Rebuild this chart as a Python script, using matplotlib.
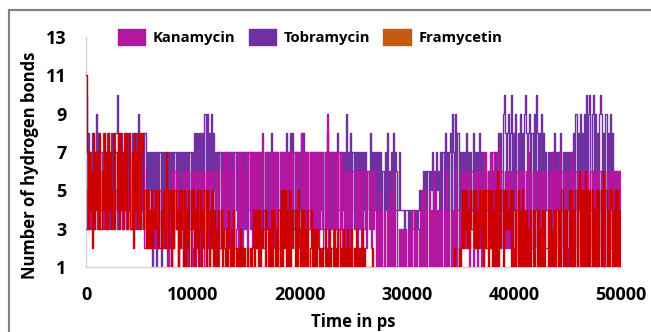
import numpy as np
import matplotlib.pyplot as plt
from matplotlib.patches import Patch
from matplotlib.lines import Line2D

# ---------------------------------------------------------------------------
# Data: number of H-bonds, one char per 100 ps sample
# (hex digits, a = 10, b = 11), one group per 1000 ps
# ---------------------------------------------------------------------------
kanamycin_str = (
    "3546354635 4536453645 5364536453 3645364536 4536453645 "
    "6354625252 2525242525 5242525152 1626361526 6162616361 "
    "2616261626 6162616261 3626172637 7263726372 3727372637 "
    "7273727372 3727382737 7273727372 2737273727 7273727372 "
    "3827372737 7273737273 3727392737 7273727372 3626362636 "
    "6362636263 3626362636 4141514141 1415141614 4131313131 "
    "1313141313 3141515141 5141615141 4141416141 1414161414 "
    "2626262616 6162616261 2727262727 7262727262 2626262616 "
    "6162616261 2627262626 6262616262 2616271626 6272616262 "
    "1627262616 6262616262 2616262616 6262616262 2616262626"
)
tobramycin_str = (
    "a384738374 9384738473 847384738a 3848374838 4738483849 "
    "3848384737 5717371737 1737571737 5737573747 3747374737 "
    "5848584858 4959485948 5747576747 3747374737 4737473747 "
    "3747374737 4737473747 3748374737 4737473847 3848374737 "
    "4838473747 3747374737 4737483747 3747384737 4739473847 "
    "3747374737 4746484747 4747474647 4846474847 6474444344 "
    "4343434343 4545465646 5657465756 4747484747 8497494847 "
    "4747484747 4847474847 4646464646 4747484849 a848948a48 "
    "4948494849 a848948494 a848494847 4747474847 4748474747 "
    "4747484948 4948494a49 a49a494849 a948494849 4846464646"
)
framycetin_str = (
    "b737462837 4738364837 3847358374 8384738483 4837284738 "
    "8378352524 2524353252 4253275245 1525341525 3151425153 "
    "5142513514 2515314251 4131424132 1314213141 2121312121 "
    "1212124142 4141324143 1314143131 4151525141 5142414153 "
    "1414131412 4131313212 1213121312 2131213121 3121312131 "
    "2131212131 2101010200 0000100000 0000000000 0000000000 "
    "0000000000 0000000000 0000000000 0000000000 0010201021 "
    "2525352425 3525242532 5152515251 4151615251 5353435152 "
    "1415141514 1413141414 4141314141 1414131414 4141514141 "
    "1515141515 6151516151 5151415151 1516151415 5141515141"
)

kanamycin = [int(c, 16) for c in kanamycin_str.replace(" ", "")]
tobramycin = [int(c, 16) for c in tobramycin_str.replace(" ", "")]
framycetin = [int(c, 16) for c in framycetin_str.replace(" ", "")]

labels = ["Kanamycin", "Tobramycin", "Framycetin"]
line_colors = ["#B3169F", "#7030A0", "#CC0000"]
legend_colors = ["#B3169F", "#7030A0", "#C55A11"]

x_ticks = [0, 10000, 20000, 30000, 40000, 50000]
y_ticks = [1, 3, 5, 7, 9, 11, 13]

# ---------------------------------------------------------------------------
# Plot
# ---------------------------------------------------------------------------
plt.rcParams['font.family'] = ['Open Sans', 'DejaVu Sans']
plt.rcParams['font.weight'] = 'bold'

W, H = 651, 332
fig = plt.figure(figsize=(W / 100, H / 100), dpi=100)
ax = fig.add_axes([86 / W, 1 - 267 / H, (621 - 86) / W, (267 - 37) / H])


def time_axis(vals):
    return np.linspace(0, 50000, len(vals))


# purple underneath, magenta over it, red on top
ax.plot(time_axis(tobramycin), tobramycin, color=line_colors[1], lw=1.0,
        drawstyle='steps-mid', zorder=2)
ax.plot(time_axis(kanamycin), kanamycin, color=line_colors[0], lw=1.0,
        drawstyle='steps-mid', zorder=3)
ax.plot(time_axis(framycetin), framycetin, color=line_colors[2], lw=1.0,
        drawstyle='steps-mid', zorder=4)

ax.set_xlim(0, 50000)
ax.set_ylim(1, 13)
ax.set_xticks(x_ticks)
ax.set_yticks(y_ticks)
ax.tick_params(length=0, labelsize=13, pad=14)
for lab in ax.get_xticklabels() + ax.get_yticklabels():
    lab.set_fontweight('bold')

for side in ['top', 'right']:
    ax.spines[side].set_visible(False)
for side in ['left', 'bottom']:
    ax.spines[side].set_color('#d0d0d0')
    ax.spines[side].set_linewidth(1.0)

fig.text(30 / W, 1 - 165 / H, 'Number of hydrogen bonds', rotation=90,
         ha='center', va='center', fontsize=12, fontweight='bold')
fig.text(353 / W, 1 - 322 / H, 'Time in ps', ha='center', va='center',
         fontsize=12, fontweight='bold')

handles = [Patch(facecolor=c, edgecolor=c) for c in legend_colors]
fig.legend(handles, labels, loc='center', bbox_to_anchor=(310 / W, 1 - 37 / H),
           ncol=3, frameon=False, handlelength=1.85,
           handleheight=1.3, handletextpad=0.5, columnspacing=0.9,
           prop={'weight': 'bold', 'size': 10.7})

# grey frame round the figure (left and top edges visible)
fig.add_artist(Line2D([9 / W, 9 / W], [0, 1 - 10 / H], transform=fig.transFigure,
                      color='#808080', lw=1.5))
fig.add_artist(Line2D([9 / W, 1], [1 - 10 / H, 1 - 10 / H], transform=fig.transFigure,
                      color='#808080', lw=1.5))

fig.savefig('out.png', dpi=100)
